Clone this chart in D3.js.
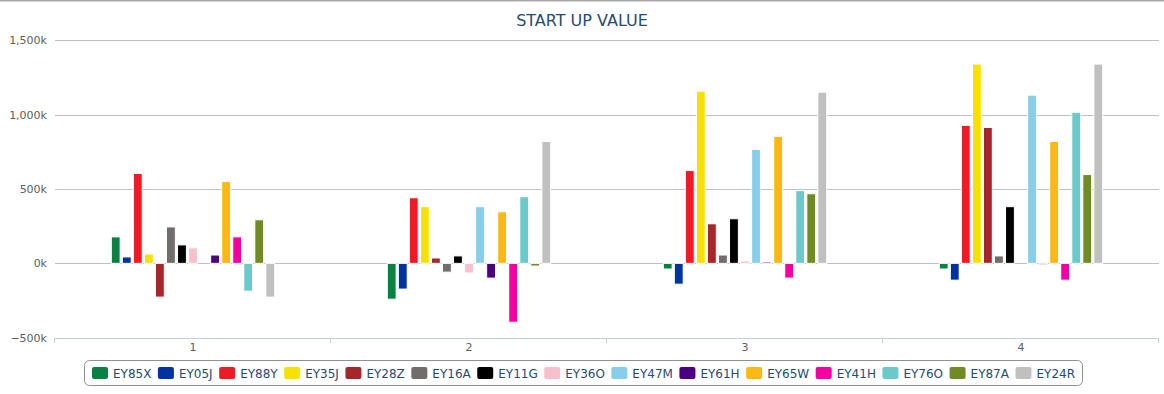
<!DOCTYPE html>
<html>
<head>
<meta charset="utf-8">
<script src="https://cdn.jsdelivr.net/npm/d3@7"></script>
<style>
  body { margin: 0; background: #fff; }
  svg { display: block; font-family: "DejaVu Sans", sans-serif; }
</style>
</head>
<body>
<svg id="chart" width="1164" height="394"></svg>
<script>
/* chart data (values in k) */
var categories = ['1', '2', '3', '4'];
var series_names = ['EY85X', 'EY05J', 'EY88Y', 'EY35J', 'EY28Z', 'EY16A', 'EY11G', 'EY36O',
                    'EY47M', 'EY61H', 'EY65W', 'EY41H', 'EY76O', 'EY87A', 'EY24R'];
var series_colors = ['#0b8043', '#0033a0', '#ed1c24', '#f7e100', '#a4282b', '#726d6d', '#000000', '#f8c0cc',
                     '#87ceeb', '#4b0082', '#fcb813', '#f400a1', '#6ac9c9', '#6f8b22', '#c0c0c0'];
// one array per category, in series order
var values_1 = [178, 43, 604, 63, -227, 245, 124, 104, null, 56, 550, 178, -187, 293, -227];
var values_2 = [-241, -173, 441, 381, 36, -59, 50, -65, 381, -99, 347, -396, 448, -18, 820];
var values_3 = [-38, -140, 624, 1158, 266, 56, 300, 16, 766, 9, 854, -99, 489, 468, 1151];
var values_4 = [-38, -113, 928, 1340, 914, 50, 381, null, 1131, -9, 820, -113, 1016, 597, 1340];
var y_ticks = [-500, 0, 500, 1000, 1500];

var all_values = [values_1, values_2, values_3, values_4];

var svg = d3.select('#chart');
var plot = {left: 55, right: 1159, top: 40.3, bottom: 337.7};

// frame line across the top
svg.append('rect').attr('x', 0).attr('y', 0).attr('width', 1164).attr('height', 1.5).attr('fill', '#a8a8a8');

svg.append('text')
  .attr('x', 582).attr('y', 26)
  .attr('text-anchor', 'middle')
  .attr('fill', '#274b6d')
  .style('font-size', '16px')
  .text('START UP VALUE');

var x0 = d3.scaleBand().domain(categories).range([plot.left, plot.right]);
var bw = x0.bandwidth();
var x1 = d3.scaleBand().domain(series_names)
  .range([bw * 0.2, bw * 0.8])
  .paddingInner(0.2).paddingOuter(0.1);
var y = d3.scaleLinear().domain([-500, 1500]).range([plot.bottom, plot.top]);

// gridlines (no line at the bottom tick, the x axis sits there)
svg.append('g').selectAll('line')
  .data(y_ticks.filter(function(d){ return d > -500; }))
  .enter().append('line')
  .attr('x1', plot.left).attr('x2', plot.right)
  .attr('y1', function(d){ return Math.round(y(d)) + 0.5; })
  .attr('y2', function(d){ return Math.round(y(d)) + 0.5; })
  .attr('stroke', '#c0c0c0').attr('stroke-width', 1);

// y axis labels
svg.append('g').selectAll('text')
  .data(y_ticks).enter().append('text')
  .attr('x', 47)
  .attr('y', function(d){ return y(d) + 4; })
  .attr('text-anchor', 'end')
  .attr('fill', '#606060')
  .style('font-size', '11px')
  .text(function(d){ return d3.format(',')(d) + 'k'; });

// x axis line + ticks on band edges
var xaxis = svg.append('g');
xaxis.append('line')
  .attr('x1', plot.left).attr('x2', plot.right)
  .attr('y1', Math.round(plot.bottom) + 0.5).attr('y2', Math.round(plot.bottom) + 0.5)
  .attr('stroke', '#c0d0e0');
var edges = categories.map(function(c){ return x0(c); }).concat([plot.right]);
xaxis.selectAll('.tick').data(edges).enter().append('line')
  .attr('x1', function(d){ return Math.round(d) - 0.5; })
  .attr('x2', function(d){ return Math.round(d) - 0.5; })
  .attr('y1', Math.round(plot.bottom)).attr('y2', Math.round(plot.bottom) + 5)
  .attr('stroke', '#c0d0e0');
xaxis.selectAll('text').data(categories).enter().append('text')
  .attr('x', function(d){ return x0(d) + bw / 2; })
  .attr('y', 351)
  .attr('text-anchor', 'middle')
  .attr('fill', '#606060')
  .style('font-size', '11px')
  .text(function(d){ return d; });

// bars
var groups = svg.append('g').selectAll('g')
  .data(categories).enter().append('g')
  .attr('transform', function(d){ return 'translate(' + x0(d) + ',0)'; });

groups.selectAll('rect')
  .data(function(d, i){
    return all_values[i].map(function(v, j){ return {name: series_names[j], color: series_colors[j], value: v}; })
      .filter(function(p){ return p.value !== null; });
  })
  .enter().append('rect')
  .attr('x', function(p){ return x1(p.name); })
  .attr('width', x1.bandwidth())
  .attr('y', function(p){ return y(Math.max(0, p.value)); })
  .attr('height', function(p){ return Math.abs(y(p.value) - y(0)); })
  .attr('fill', function(p){ return p.color; })
  .attr('stroke', '#ffffff').attr('stroke-width', 1);

// legend
var legend = svg.append('g');
var legendBox = legend.append('rect')
  .attr('x', 84.5).attr('y', 360.5).attr('width', 998).attr('height', 25)
  .attr('rx', 5).attr('ry', 5)
  .attr('fill', 'none').attr('stroke', '#909090');

var items = legend.selectAll('g.item').data(series_names).enter().append('g').attr('class', 'item');
items.append('rect')
  .attr('width', 16).attr('height', 12).attr('rx', 2).attr('ry', 2)
  .attr('y', 367)
  .attr('fill', function(d, i){ return series_colors[i]; });
items.append('text')
  .attr('x', 21).attr('y', 378)
  .attr('fill', '#274b6d')
  .style('font-size', '12px')
  .text(function(d){ return d; });

// spread items so first symbol starts at 92 and last label ends near 1075
var widths = [];
items.each(function(){ widths.push(21 + d3.select(this).select('text').node().getComputedTextLength()); });
var gap = (1075 - 92 - d3.sum(widths)) / (widths.length - 1);
var pos = 92;
items.each(function(d, i){
  d3.select(this).attr('transform', 'translate(' + pos + ',0)');
  pos += widths[i] + gap;
});
</script>
</body>
</html>
